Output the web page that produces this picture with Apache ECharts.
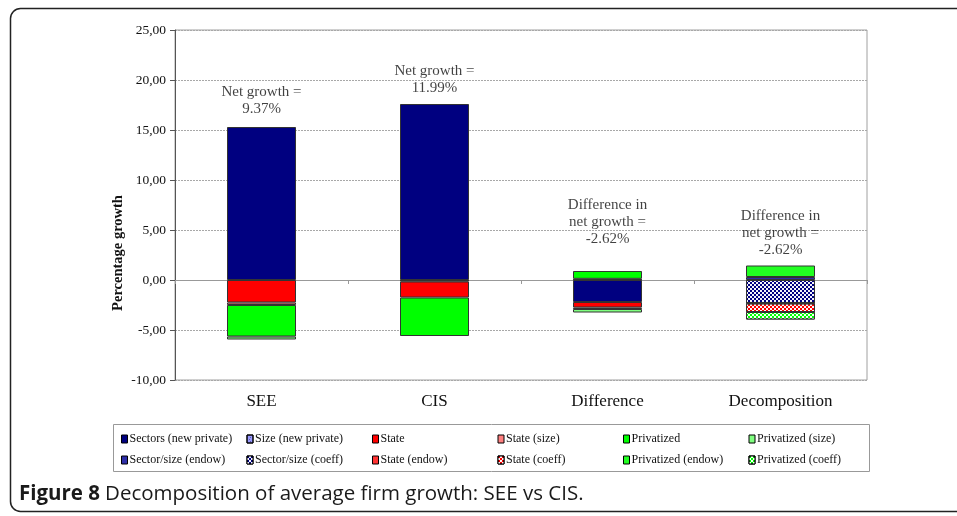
<!DOCTYPE html>
<html><head><meta charset="utf-8">
<script src="https://cdn.jsdelivr.net/npm/echarts@6/dist/echarts.min.js"></script>
<style>html,body{margin:0;padding:0;background:#fff}#c{width:957px;height:516px}</style>
</head><body><div id="c"></div>
<script>
// ---- data ----
const categories = ['SEE', 'CIS', 'Difference', 'Decomposition'];
const seriesNames = ['Sectors (new private)', 'Size (new private)', 'State', 'State (size)', 'Privatized', 'Privatized (size)',
  'Sector/size (endow)', 'Sector/size (coeff)', 'State (endow)', 'State (coeff)', 'Privatized (endow)', 'Privatized (coeff)'];
const sectorsNewPrivate = [15.3, 17.6, -2.2, null];
const sizeNewPrivate    = [null, -0.15, 0.12, null];
const state             = [-2.25, -1.6, -0.55, null];
const stateSize         = [-0.25, null, -0.15, null];
const privatized        = [-3.15, -3.85, 0.78, null];
const privatizedSize    = [-0.3, null, -0.35, null];
const sectorSizeEndow   = [null, null, null, 0.3];
const sectorSizeCoeff   = [null, null, null, -2.3];
const stateEndow        = [null, null, null, -0.05];
const stateCoeff        = [null, null, null, -0.85];
const privatizedEndow   = [null, null, null, 1.15];
const privatizedCoeff   = [null, null, null, -0.75];
const noteText = ['Net growth =\n9.37%', 'Net growth =\n11.99%', 'Difference in\nnet growth =\n-2.62%', 'Difference in\nnet growth =\n-2.62%'];
const noteAnchor = [17.9, 20.0, 5.8, 4.7];
const yTicks = { min: -10, max: 25, step: 5 };

// ---- styles ----
const values = [sectorsNewPrivate, sizeNewPrivate, state, stateSize, privatized, privatizedSize,
  sectorSizeEndow, sectorSizeCoeff, stateEndow, stateCoeff, privatizedEndow, privatizedCoeff];
const colors = ['#000080', '#9999ff', '#ff0000', '#ff8080', '#00ff00', '#80ff80',
  '#2e2ea8', '#000080', '#ff3333', '#ff0000', '#22ff22', '#00ff00'];
const checker = { symbol: 'rect', symbolSize: 1, color: 'rgba(255,255,255,0.95)', dashArrayX: [[2, 2], [0, 2, 2, 0]], dashArrayY: [2, 0], rotation: 0 };
const dots = { symbol: 'rect', symbolSize: 1, color: 'rgba(60,60,120,0.6)', dashArrayX: [[1, 2], [0, 1.5, 1, 0.5]], dashArrayY: [1, 1], rotation: 0 };
const decals = [null, dots, null, null, null, null, null, checker, null, checker, null, checker];
const FONT = '"Liberation Serif", "Times New Roman", serif';

const series = seriesNames.map((n, i) => ({
  name: n, type: 'bar', stack: 'all', barWidth: 69, data: values[i],
  itemStyle: Object.assign({ color: colors[i], borderColor: '#333', borderWidth: 1 }, decals[i] ? { decal: decals[i] } : {}),
  emphasis: { disabled: true }
}));
series.push({
  type: 'scatter', symbolSize: 0, silent: true,
  data: categories.map((c, i) => [c, noteAnchor[i]]),
  label: { show: true, position: 'inside', formatter: p => noteText[p.dataIndex], fontFamily: FONT, fontSize: 15, lineHeight: 17, color: '#111' }
});

const legendCols = [];
for (let c = 0; c < 6; c++) {
  legendCols.push({
    orient: 'vertical', left: 116 + c * 125.5, top: 428, itemGap: 9, itemWidth: 6, itemHeight: 8, icon: 'rect',
    data: [seriesNames[c], seriesNames[c + 6]], selectedMode: false,
    itemStyle: { borderColor: '#000', borderWidth: 1 },
    textStyle: { fontFamily: FONT, fontSize: 12, color: '#111', padding: [0, 0, 0, -3] }
  });
}

const chart = echarts.init(document.getElementById('c'), null, { renderer: 'canvas' });
chart.setOption({
  animation: false,
  backgroundColor: '#fff',
  title: { text: '{b|Figure 8} {r|Decomposition of average firm growth: SEE vs CIS.}', left: 14, top: 479,
    textStyle: { rich: {
      b: { fontFamily: '"Open Sans", "Noto Sans", sans-serif', fontWeight: 'bold', fontSize: 20.5, color: '#1a1a1a' },
      r: { fontFamily: '"Open Sans", "Noto Sans", sans-serif', fontWeight: 'normal', fontSize: 20.5, color: '#1a1a1a' } } } },
  grid: { left: 175, right: 90, top: 30, bottom: 136, show: true, borderColor: '#a0a0a0', borderWidth: 1 },
  legend: legendCols,
  xAxis: [
    { type: 'category', data: categories, position: 'bottom', axisLine: { show: false, onZero: false }, axisTick: { show: false },
      axisLabel: { margin: 13, fontFamily: FONT, fontSize: 17, color: '#111' } },
    { type: 'category', data: categories, position: 'bottom', axisLine: { onZero: true, lineStyle: { color: '#999' } },
      axisTick: { show: true, length: 4, lineStyle: { color: '#999' } }, axisLabel: { show: false } }
  ],
  yAxis: {
    type: 'value', min: yTicks.min, max: yTicks.max, interval: yTicks.step,
    axisLine: { show: true, lineStyle: { color: '#555' } },
    axisTick: { show: true, length: 5, lineStyle: { color: '#555' } },
    axisLabel: { fontFamily: FONT, fontSize: 13.5, color: '#111', margin: 9, formatter: v => v.toFixed(2).replace('.', ',') },
    splitLine: { show: true, lineStyle: { color: '#a8a8a8', type: [2, 1] } }
  },
  graphic: [
    { type: 'rect', shape: { x: 10.5, y: 8.5, width: 980, height: 503, r: 10 }, style: { fill: 'none', stroke: '#222', lineWidth: 1.5 }, silent: true, z: -1 },
    { type: 'rect', shape: { x: 113.5, y: 424.5, width: 756, height: 47 }, style: { fill: 'none', stroke: '#999', lineWidth: 1 }, silent: true },
    { type: 'text', x: 118, y: 253, rotation: Math.PI / 2, style: { text: 'Percentage growth', fontFamily: FONT, fontSize: 14.5, fontWeight: 'bold', fill: '#111', align: 'center', verticalAlign: 'middle' }, silent: true }
  ],
  series: series
});
</script></body></html>
